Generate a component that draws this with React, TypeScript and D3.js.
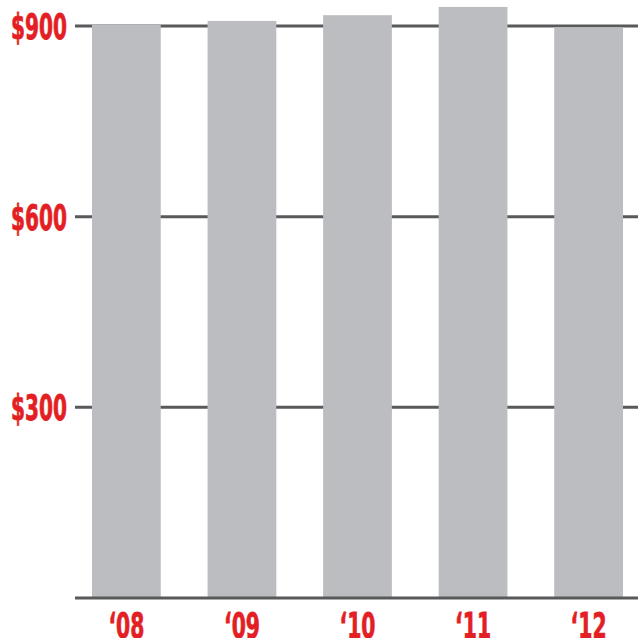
import React from "react";
import * as d3 from "d3";

const years = ["'08", "'09", "'10", "'11", "'12"];
const values = [902, 908, 917, 930, 898];
const yTicks = [300, 600, 900];
const yTickLabels = ["$300", "$600", "$900"];

const W = 638;
const H = 638;
const RED = "#e31e24";
const BAR = "#bcbdc1";
const GRID = "#58595b";
const FONT = "'Liberation Sans Narrow', 'DejaVu Sans Condensed', 'Roboto Condensed', sans-serif";

export default function App() {
  const x = d3.scaleBand<string>().domain(years).range([92, 623]).paddingInner(0.405).paddingOuter(0);
  const y = d3.scaleLinear().domain([0, 900]).range([598, 26]);
  const gridX0 = 75;
  const gridX1 = W;

  return (
    <div style={{ position: "fixed", left: 0, top: 0, width: W, height: H, background: "#fff" }}>
      <svg width={W} height={H} style={{ display: "block" }}>
        {yTicks.map((t) => (
          <line key={t} x1={gridX0} x2={gridX1} y1={y(t)} y2={y(t)} stroke={GRID} strokeWidth={3} />
        ))}
        {years.map((yr, i) => (
          <rect key={yr} x={x(yr)} y={y(values[i])} width={x.bandwidth()} height={y(0) - y(values[i])} fill={BAR} />
        ))}
        <line x1={gridX0} x2={gridX1} y1={y(0)} y2={y(0)} stroke={GRID} strokeWidth={3} />
        {yTicks.map((t, i) => (
          <text
            key={t}
            x={67}
            y={y(t) + 13}
            textAnchor="end"
            fill={RED}
            stroke={RED}
            strokeWidth={0.8}
            fontFamily={FONT}
            fontWeight="bold"
            fontSize={36}
            textLength={56}
            lengthAdjust="spacingAndGlyphs"
          >
            {yTickLabels[i]}
          </text>
        ))}
        {years.map((yr) => (
          <text
            key={yr}
            x={(x(yr) as number) + x.bandwidth() / 2}
            y={638}
            textAnchor="middle"
            fill={RED}
            stroke={RED}
            strokeWidth={0.8}
            fontFamily={FONT}
            fontWeight="bold"
            fontSize={36}
            textLength={36}
            lengthAdjust="spacingAndGlyphs"
          >
            {yr.replace("'", "\u2018")}
          </text>
        ))}
      </svg>
    </div>
  );
}
